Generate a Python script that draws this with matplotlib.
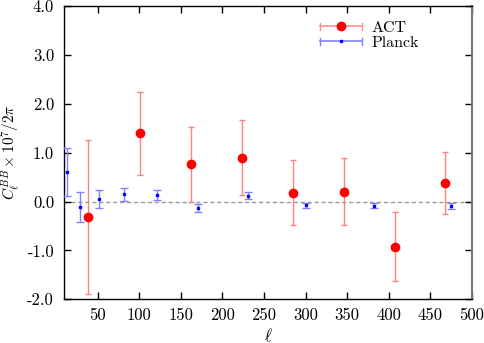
import matplotlib
matplotlib.use("Agg")
import matplotlib.pyplot as plt
from matplotlib.legend_handler import HandlerBase
from matplotlib.lines import Line2D

plt.rcParams['font.family'] = ['cmr10', 'DejaVu Serif']
plt.rcParams['mathtext.fontset'] = 'cm'
plt.rcParams['axes.unicode_minus'] = False
plt.rcParams['axes.formatter.use_mathtext'] = True

# ACT data
act_l = [39, 101, 162, 223, 285, 346, 407, 468]
act_c = [-0.32, 1.40, 0.76, 0.90, 0.18, 0.20, -0.92, 0.375]
act_err = [1.57, 0.85, 0.77, 0.76, 0.67, 0.69, 0.70, 0.63]

# Planck data
pl_l = [13, 29, 52, 82, 122, 171, 231, 301, 382, 475]
pl_c = [0.60, -0.11, 0.055, 0.15, 0.137, -0.13, 0.116, -0.08, -0.09, -0.09]
pl_err = [0.49, 0.31, 0.18, 0.13, 0.10, 0.08, 0.07, 0.05, 0.05, 0.06]

xticks = [50, 100, 150, 200, 250, 300, 350, 400, 450, 500]
yticks = [-2.0, -1.0, 0.0, 1.0, 2.0, 3.0, 4.0]
ytick_labels = ['-2.0', '-1.0', '0.0', '1.0', '2.0', '3.0', '4.0']


class HErrHandler(HandlerBase):
    def __init__(self, ecolor, mcolor, marker, ms):
        super().__init__()
        self.ecolor, self.mcolor, self.marker, self.ms = ecolor, mcolor, marker, ms

    def create_artists(self, legend, orig_handle, xdescent, ydescent,
                       width, height, fontsize, trans):
        y = height / 2 - ydescent
        x0, x1 = -xdescent, width - xdescent
        c = 2.5
        l1 = Line2D([x0, x1], [y, y], color=self.ecolor, lw=1.2, transform=trans)
        l2 = Line2D([x0, x0], [y - c, y + c], color=self.ecolor, lw=1.0, transform=trans)
        l3 = Line2D([x1, x1], [y - c, y + c], color=self.ecolor, lw=1.0, transform=trans)
        m = Line2D([(x0 + x1) / 2], [y], marker=self.marker, color=self.mcolor,
                   ms=self.ms, ls='none', transform=trans)
        return [l1, l2, l3, m]


fig = plt.figure(figsize=(4.85, 3.43), dpi=100)
ax = fig.add_axes([0.1326, 0.1274, 0.8405, 0.8551])

ax.axhline(0, color='#999999', lw=1.0, ls=(0, (3, 2)), zorder=1)

ax.errorbar(act_l, act_c, yerr=act_err, fmt='o', color='red', ms=6,
            ecolor='#ff8080', elinewidth=1.0, capsize=2.5, capthick=1.0,
            zorder=3)
ax.errorbar(pl_l, pl_c, yerr=pl_err, fmt='s', color='blue', ms=2,
            ecolor='#8080ff', elinewidth=1.0, capsize=3, capthick=1.0,
            zorder=3)

ax.set_xlim(10, 500)
ax.set_ylim(-2.0, 4.0)
ax.set_xticks(xticks)
ax.set_xticklabels([str(t) for t in xticks])
ax.set_yticks(yticks)
ax.set_yticklabels(ytick_labels)
ax.tick_params(direction='in', top=True, right=True, length=5, width=1,
               labelsize=12)
ax.tick_params(axis='x', pad=6.0)
ax.tick_params(axis='y', pad=7.4)
for s in ['left', 'bottom', 'top']:
    ax.spines[s].set_linewidth(1.0)
ax.spines['right'].set_color('#777777')
ax.spines['right'].set_linewidth(1.5)

ax.set_xlabel(r'$\ell$', fontsize=12)
ax.xaxis.set_label_coords(0.5, -0.092)
ax.set_ylabel(r'$C_\ell^{BB}\times 10^7/2\pi$', fontsize=11)
ax.yaxis.set_label_coords(-0.105, 0.5)

hA = Line2D([], [])
hB = Line2D([], [])
ax.legend([hA, hB], ['ACT', 'Planck'],
          handler_map={hA: HErrHandler('#ff9090', 'red', 'o', 6),
                       hB: HErrHandler('#8080ff', 'blue', 's', 2)},
          loc='upper left', bbox_to_anchor=(0.593, 0.999), frameon=False,
          fontsize=11.5, handlelength=2.6, handletextpad=0.6,
          labelspacing=0.05)

fig.savefig('out.png', dpi=100)
